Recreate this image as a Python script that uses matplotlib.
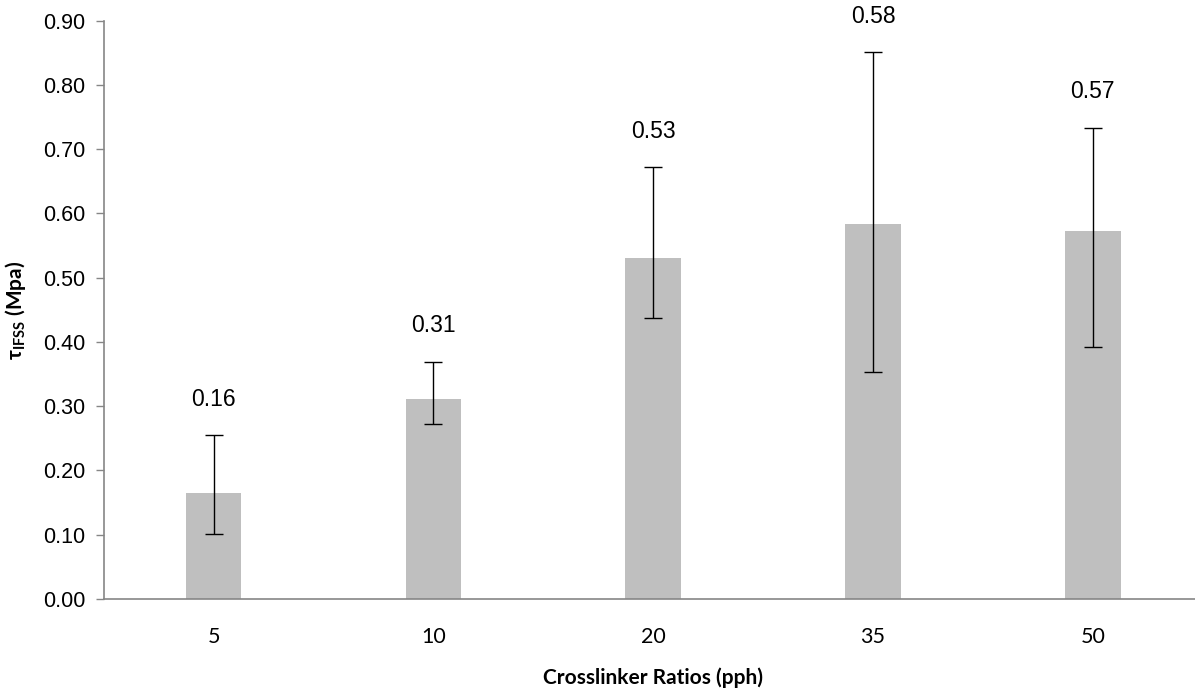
import matplotlib
matplotlib.use('Agg')
import numpy as np
import matplotlib.pyplot as plt

# crosslinker ratio (pph) vs interfacial shear strength
ratios = ['5', '10', '20', '35', '50']
tau_mean = [0.165, 0.311, 0.531, 0.583, 0.572]
err_low = [0.064, 0.039, 0.093, 0.230, 0.180]
err_high = [0.090, 0.058, 0.141, 0.268, 0.161]
value_labels = ['0.16', '0.31', '0.53', '0.58', '0.57']
y_ticks = np.arange(0, 0.91, 0.1)

axis_grey = '#868686'
bar_grey = '#bfbfbf'


def main():
    fig = plt.figure(figsize=(11.95, 6.9), dpi=100)
    ax = fig.add_axes([0.0868, 0.1319, 0.9197, 0.8381])

    x = np.arange(len(ratios))
    ax.bar(x, tau_mean, width=0.253, color=bar_grey, zorder=1)
    ax.errorbar(x, tau_mean, yerr=[err_low, err_high], fmt='none',
                ecolor='black', elinewidth=1, capsize=6.5, capthick=1, zorder=2)

    tops = np.array(tau_mean) + np.array(err_high)
    for xi, top, lab in zip(x, tops, value_labels):
        ax.annotate(lab, (xi, top), xytext=(0, 26), textcoords='offset points',
                    ha='center', va='center', fontsize=16.5,
                    family='Liberation Sans', clip_on=False)

    ax.set_xlim(-0.5, len(ratios) - 0.5)
    ax.set_ylim(0, 0.9)
    ax.set_xticks(x)
    ax.set_xticklabels(ratios, family='Lato', fontsize=15.5)
    ax.set_yticks(y_ticks)
    ax.set_yticklabels([f'{v:.2f}' for v in y_ticks], family='Liberation Sans', fontsize=15.5)
    ax.tick_params(axis='x', length=0, pad=20)
    ax.tick_params(axis='y', length=6, width=1, color=axis_grey, pad=7)

    for side in ['top', 'right']:
        ax.spines[side].set_visible(False)
    for side in ['left', 'bottom']:
        ax.spines[side].set_color(axis_grey)
        ax.spines[side].set_linewidth(1.2)

    ax.set_xlabel('Crosslinker Ratios (pph)', family='Lato', fontweight='bold',
                  fontsize=15, labelpad=15)
    ax.set_ylabel(r'τ$_{\mathregular{IFSS}}$ (Mpa)', family='Lato', fontweight='bold',
                  fontsize=15, labelpad=11)

    fig.savefig('out.png', dpi=100)
    plt.close(fig)


if __name__ == '__main__':
    main()
